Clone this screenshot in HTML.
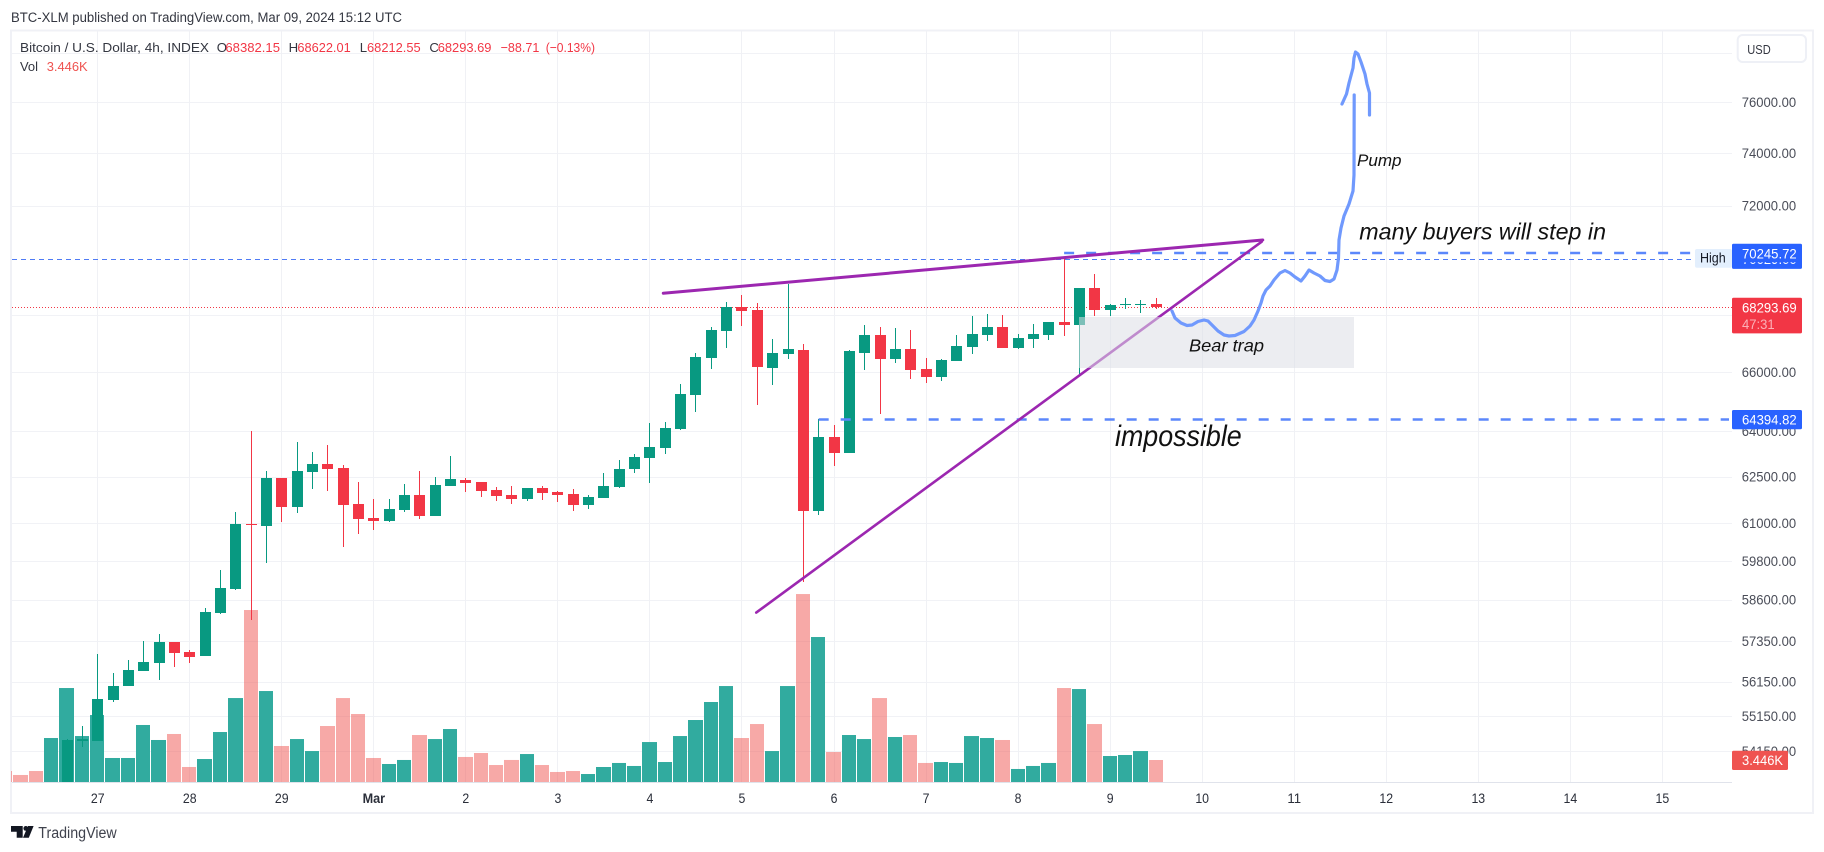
<!DOCTYPE html>
<html lang="en">
<head>
<meta charset="utf-8">
<title>Bitcoin / U.S. Dollar 4h chart</title>
<style>
html,body{margin:0;padding:0;background:#fff;width:1824px;height:852px;overflow:hidden}
svg{display:block;font-family:"Liberation Sans",sans-serif}
</style>
</head>
<body>
<svg id="chart" xmlns="http://www.w3.org/2000/svg" width="1824" height="852" viewBox="0 0 1824 852">
  <defs>
    <clipPath id="pane-clip"><rect x="11" y="31" width="1721" height="751"/></clipPath>
  </defs>
  <rect x="0" y="0" width="1824" height="852" fill="#ffffff"/>
  <text x="11" y="22" font-size="13.5" fill="#333640" textLength="391" lengthAdjust="spacingAndGlyphs">BTC-XLM published on TradingView.com, Mar 09, 2024 15:12 UTC</text>
  <rect x="11" y="30.5" width="1802" height="782.5" fill="none" stroke="#f0f1f6" stroke-width="2"/>

  <g id="grid"></g>
  <g id="volume" clip-path="url(#pane-clip)"></g>
  <line id="high-thin-line" stroke="#4f7bf5" stroke-width="1" stroke-dasharray="5 4"/>
  <line id="last-price-line" stroke="#f23645" stroke-width="1" stroke-dasharray="1 2"/>
  <g id="candles" clip-path="url(#pane-clip)"></g>

  <line id="level-high" stroke="#5b87fb" stroke-width="2.5" stroke-dasharray="10 12"/>
  <line id="level-low" stroke="#5b87fb" stroke-width="2.5" stroke-dasharray="10 12"/>
  <line id="trend-top" stroke="#9c27b0" stroke-width="3" stroke-linecap="round"/>
  <line id="trend-bottom" stroke="#9c27b0" stroke-width="2.6" stroke-linecap="round"/>
  <rect x="1079" y="317" width="275" height="51" fill="rgba(220,222,230,0.55)"/>

  <polyline fill="none" stroke="#7099fd" stroke-width="3.2" stroke-linejoin="round" stroke-linecap="round" points="1172,311 1175,318 1181,323 1187,325.5 1192,325 1198,321.5 1204,320 1208,321 1212,325 1218,331 1224,335 1229,336 1235,335.5 1244,331.5 1250,326 1254,320 1258,311 1261,303 1263,296 1266,290 1270,286 1274,280 1280,273 1285,270.5 1290,273 1295,277 1301,281 1305,276 1309,270 1314,273 1320,276 1325,280.5 1330,281.5 1334,279 1337,270 1338.5,258 1339,240 1341,228 1344,216 1349,204 1353,191 1354,175 1354.2,95"/>
  <polyline fill="none" stroke="#7099fd" stroke-width="3.2" stroke-linejoin="round" stroke-linecap="round" points="1342,104 1346.5,94 1349,83 1353,68 1354,58 1355.5,52 1358,54 1361,62 1365,74 1367,84 1369.5,93 1369.5,115"/>

  <text x="1357" y="166" font-size="17" font-style="italic" fill="#111111" textLength="44.5" lengthAdjust="spacingAndGlyphs">Pump</text>
  <text x="1359.3" y="239.3" font-size="23" font-style="italic" fill="#111111" textLength="246.7" lengthAdjust="spacingAndGlyphs">many buyers will step in</text>
  <text x="1189" y="351.5" font-size="17.5" font-style="italic" fill="#111111" textLength="75" lengthAdjust="spacingAndGlyphs">Bear trap</text>
  <text x="1115" y="446" font-size="29.5" font-style="italic" fill="#111111" textLength="126.7" lengthAdjust="spacingAndGlyphs">impossible</text>

  <line x1="12" y1="782.5" x2="1732" y2="782.5" stroke="#e0e3eb" stroke-width="1"/>
  <g id="time-axis"></g>
  <g id="price-axis"></g>

  <g font-size="13.2">
    <text x="20" y="52" fill="#333640" textLength="189" lengthAdjust="spacingAndGlyphs">Bitcoin / U.S. Dollar, 4h, INDEX</text>
    <text x="216.7" y="52" fill="#333640">O</text>
    <text x="225.4" y="52" fill="#f23645" textLength="54.6" lengthAdjust="spacingAndGlyphs">68382.15</text>
    <text x="288.6" y="52" fill="#333640">H</text>
    <text x="297.4" y="52" fill="#f23645" textLength="53.3" lengthAdjust="spacingAndGlyphs">68622.01</text>
    <text x="359.8" y="52" fill="#333640">L</text>
    <text x="367" y="52" fill="#f23645" textLength="53.7" lengthAdjust="spacingAndGlyphs">68212.55</text>
    <text x="429.4" y="52" fill="#333640">C</text>
    <text x="437.7" y="52" fill="#f23645" textLength="53.8" lengthAdjust="spacingAndGlyphs">68293.69</text>
    <text x="500.6" y="52" fill="#f23645" textLength="38.8" lengthAdjust="spacingAndGlyphs">−88.71</text>
    <text x="545.7" y="52" fill="#f23645" textLength="49.3" lengthAdjust="spacingAndGlyphs">(−0.13%)</text>
    <text x="20" y="71" fill="#333640" textLength="18" lengthAdjust="spacingAndGlyphs">Vol</text>
    <text x="46.7" y="71" fill="#ef5350" textLength="41" lengthAdjust="spacingAndGlyphs">3.446K</text>
  </g>

  <g>
    <rect x="1737.7" y="35" width="68.3" height="27" rx="5" fill="#ffffff" stroke="#eef0f6" stroke-width="2"/>
    <text x="1747.3" y="54" font-size="13" fill="#333640" textLength="23.4" lengthAdjust="spacingAndGlyphs">USD</text>
  </g>

  <g>
    <path d="M11 826h11.7v11.7h-6v-6h-5.7z" fill="#131722"/>
    <circle cx="25.8" cy="828.4" r="2.4" fill="#131722"/>
    <path d="M28 826h5.6l-4.8 11.7h-5.8z" fill="#131722"/>
    <text x="38.3" y="838" font-size="15.5" fill="#3f424d" textLength="78.4" lengthAdjust="spacingAndGlyphs">TradingView</text>
  </g>
</svg>

<script>
// Category labels: one per day, starting at bar 0 and six 4h bars apart
const dayLabels = ['27','28','29','Mar','2','3','4','5','6','7','8','9','10','11','12','13','14','15'];
// Price axis
const gridPrices = [78000,76000,74000,72000,68000,66000,64000,62500,61000,59800,58600,57350,56150,55150,54150];
const tickLabels = ['78000.00','76000.00','74000.00','72000.00','68000.00','66000.00','64000.00','62500.00','61000.00','59800.00','58600.00','57350.00','56150.00','55150.00','54150.00'];
// Series start at bar -2, the first candle on screen
const firstCandleBar = -2;
const opens = [52900,54440,54441,55617,56030,56470,56706,57330,57029,56912,58206,58940,60979,60915,62460,61520,62657,62918,62787,61615,61170,61074,61424,61906,61233,62199,62395,62330,62068,61906,61775,62133,62003,61938,61583,61807,62166,62755,63114,63443,64082,65225,66499,67445,68294,68188,66155,66636,66774,61392,63812,63278,66671,67305,66465,66808,66120,65844,66396,66877,67305,67586,66843,67160,67305,67763,67657,68978,68188,68385,68370,68382.15];
const highs = [54489,54871,56970,56412,56794,57360,57571,57330,57088,58357,59530,61360,64015,62689,62460,63646,63311,63546,62886,62330,61775,61775,62265,62689,62493,63180,62460,62330,62166,62199,62133,62199,62036,62101,61906,62624,63049,63245,64282,64316,65603,66671,67586,68471,68724,68436,67160,69123,66980,64417,64215,66774,67657,67586,67551,67480,66499,66465,67305,67975,68046,68010,67340,67692,67763,70029,68978,69486,68400,68615,68542,68622.01];
const lows = [52500,54278,54441,55560,56030,56470,56206,56588,56706,56912,58176,58909,57995,59747,61042,61329,62100,62036,60245,60661,60788,61042,61360,61138,61233,62199,62003,61840,61710,61615,61710,61742,61678,61392,61456,61807,62133,62624,62297,63245,64048,64651,66120,66843,67621,64886,65569,66465,59158,61265,62853,63278,66086,64584,66327,65775,65637,65706,66396,66636,67090,66843,66808,66843,67125,67270,65948,67975,67975,68223,68082,68212.55];
const closes = [54469,54480,55646,56030,56500,56735,57330,57000,56882,58236,58971,60979,60947,62460,61520,62689,62918,62755,61583,61138,61074,61456,61906,61233,62232,62428,62297,62036,61873,61775,62133,61971,61906,61583,61840,62199,62755,63147,63476,64115,65259,66533,67480,68294,68153,66189,66671,66808,61392,63812,63278,66740,67305,66465,66808,66086,65844,66430,66912,67340,67586,66843,67195,67340,67763,67657,68978,68188,68365,68415,68400,68293.69];
// Volume in thousands, starting at bar -6; u = up bar, d = down bar
const firstVolumeBar = -6;
const volumes = [1.72,1.10,1.72,6.89,14.72,7.20,10.49,3.76,3.76,8.93,6.58,7.52,2.35,3.60,7.83,13.15,26.94,14.25,5.64,6.73,4.85,8.77,13.15,10.65,3.76,2.82,3.45,7.36,6.73,8.30,3.92,4.54,2.66,3.45,4.38,2.66,1.57,1.72,1.25,2.35,2.98,2.51,6.26,3.13,7.20,9.71,12.53,15.03,6.89,9.08,4.85,15.03,29.44,22.71,4.70,7.36,6.73,13.15,7.05,7.36,2.98,3.13,2.98,7.20,6.89,6.58,2.04,2.51,2.98,14.72,14.56,9.08,4.07,4.23,4.85,3.446];
const volumeDirections = ['d','d','d','u','u','u','u','u','u','u','u','d','d','u','u','u','d','u','d','u','u','d','d','d','d','u','u','d','u','u','d','d','d','d','u','d','d','d','u','u','u','u','u','u','u','u','u','u','d','d','u','u','d','u','d','u','u','d','u','d','d','u','u','u','u','d','u','u','u','d','u','d','u','u','u','d'];
// Key price levels
const lastPrice = 68293.69;
const highLevel = 70245.72;
const lowLevel = 64394.82;
const previousHigh = 70029;
const volumeLast = 3.446;
// Trend-line anchors as [bar, price]
const upperTrend = [[36.87,68785],[75.95,70726]];
const lowerTrend = [[42.93,58215],[75.88,70663]];

const NS = 'http://www.w3.org/2000/svg';
const PANE_LEFT = 12, PANE_RIGHT = 1732, BASELINE = 782, VOL_PX_PER_K = 66 / 3 / 3.446;

function xBar(k) { return 97.7 + 15.34 * k; }
function yPrice(p) { return 102.3 + 1914 * Math.log(76000 / p); }
function yVolume(v) { return BASELINE - v * VOL_PX_PER_K; }
function barLeft(k) { return Math.round(xBar(k) - 7.6); }
function mk(tag, attrs, parent) {
  const el = document.createElementNS(NS, tag);
  for (const key in attrs) el.setAttribute(key, attrs[key]);
  parent.appendChild(el);
  return el;
}
function setLine(id, x1, y1, x2, y2) {
  const el = document.getElementById(id);
  el.setAttribute('x1', x1); el.setAttribute('y1', y1);
  el.setAttribute('x2', x2); el.setAttribute('y2', y2);
}

// Grid
const gridGroup = document.getElementById('grid');
gridPrices.forEach(function (p) {
  const yy = Math.round(yPrice(p)) + 0.5;
  const ln = mk('line', {x1: PANE_LEFT, x2: PANE_RIGHT, y1: yy, y2: yy, stroke: '#f1f2f6', 'stroke-width': 1}, gridGroup);
  
  
});
dayLabels.forEach(function (d, i) {
  const xx = Math.round(xBar(i * 6) - 5.5) + 5.5;
  const ln = mk('line', {x1: xx, x2: xx, y1: 31, y2: BASELINE, stroke: '#f0f1f5', 'stroke-width': 1}, gridGroup);
  
  
});

// Volume bars
const volGroup = document.getElementById('volume');
volumes.forEach(function (v, i) {
  const k = firstVolumeBar + i;
  const left = barLeft(k);
  const top = yVolume(v);
  const r = mk('rect', {x: left, y: top, width: barLeft(k + 1) - left - 1, height: BASELINE - top,
    fill: volumeDirections[i] === 'u' ? 'rgba(38,166,154,0.95)' : 'rgba(239,83,80,0.5)'}, volGroup);
  
  
});

// Candles
const candleGroup = document.getElementById('candles');
closes.forEach(function (c, i) {
  const k = firstCandleBar + i;
  const o = opens[i], h = highs[i], l = lows[i];
  const color = c >= o ? '#089981' : '#f23645';
  const left = Math.round(xBar(k) - 5.5);
  const g = mk('g', {}, candleGroup);
  
  
  const yh = Math.round(yPrice(h)), yl = Math.round(yPrice(l));
  const wick = mk('rect', {x: left + 5, y: yh, width: 1, height: Math.max(1, yl - yh), fill: color}, g);
  
  
  const yt = Math.round(yPrice(Math.max(o, c))), yb = Math.round(yPrice(Math.min(o, c)));
  const body = mk('rect', {x: left, y: yt, width: 11, height: Math.max(1, yb - yt), fill: color}, g);
  
  
});

// Level and trend lines
const yLast = Math.round(yPrice(lastPrice)) + 0.5;
const yPrev = Math.round(yPrice(previousHigh)) + 0.5;
setLine('last-price-line', PANE_LEFT, yLast, PANE_RIGHT, yLast);
setLine('high-thin-line', PANE_LEFT, yPrev, 1695, yPrev);
setLine('level-high', xBar(63), yPrice(highLevel), 1695, yPrice(highLevel));
setLine('level-low', xBar(47), yPrice(lowLevel), 1729, yPrice(lowLevel));
setLine('trend-top', xBar(upperTrend[0][0]), yPrice(upperTrend[0][1]), xBar(upperTrend[1][0]), yPrice(upperTrend[1][1]));
setLine('trend-bottom', xBar(lowerTrend[0][0]), yPrice(lowerTrend[0][1]), xBar(lowerTrend[1][0]), yPrice(lowerTrend[1][1]));

// Time axis
const timeGroup = document.getElementById('time-axis');
dayLabels.forEach(function (d, i) {
  const t = mk('text', {x: xBar(i * 6), y: 803, 'text-anchor': 'middle', 'font-size': 14,
    fill: '#2a2e39', 'font-weight': d === 'Mar' ? 'bold' : 'normal',
    textLength: d === 'Mar' ? 22.5 : d.length * 6.85, lengthAdjust: 'spacingAndGlyphs'}, timeGroup);
  
  
  t.textContent = d;
});

// Price axis
const priceGroup = document.getElementById('price-axis');
tickLabels.forEach(function (label, i) {
  const t = mk('text', {x: 1741.7, y: yPrice(gridPrices[i]) + 4.7, 'font-size': 13.5, fill: '#4a4d58',
    textLength: 54.4, lengthAdjust: 'spacingAndGlyphs'}, priceGroup);
  
  
  t.textContent = label;
});
function priceTag(name, text, yTop, height, width, bg, textY, fg) {
  const r = mk('rect', {x: 1732, y: yTop, width: width, height: height, rx: 1.5, fill: bg}, priceGroup);
  
  
  const t = mk('text', {x: 1742, y: textY, 'font-size': 13.5, fill: fg || '#ffffff'}, priceGroup);
  
  
  t.textContent = text;
  t.setAttribute('textLength', text.length * 6.84);
  t.setAttribute('lengthAdjust', 'spacingAndGlyphs');
  return t;
}
priceTag('previous-high-tag', previousHigh.toFixed(2), yPrice(previousHigh) - 9, 19, 70, '#2962ff', yPrice(previousHigh) + 5);
priceTag('high-tag', highLevel.toFixed(2), yPrice(highLevel) - 9.3, 18.6, 70, '#2962ff', yPrice(highLevel) + 5.7);
priceTag('last-price-tag', lastPrice.toFixed(2), yPrice(lastPrice) - 9.2, 35.6, 70, '#f23645', yPrice(lastPrice) + 5.6);
const countdown = mk('text', {x: 1742, y: 329, 'font-size': 13.5, fill: '#fbb0b8', textLength: 32.7, lengthAdjust: 'spacingAndGlyphs'}, priceGroup);


countdown.textContent = '47:31';
priceTag('low-tag', lowLevel.toFixed(2), yPrice(lowLevel) - 9.5, 19.3, 70, '#2962ff', yPrice(lowLevel) + 5);
priceTag('volume-tag', volumeLast.toFixed(3) + 'K', yVolume(volumeLast) - 9.3, 19.3, 56, '#ef5350', yVolume(volumeLast) + 4.8);
const highBox = mk('rect', {x: 1695, y: 249, width: 37, height: 18.7, rx: 2, fill: '#e3effd'}, priceGroup);


const highText = mk('text', {x: 1700, y: 262.7, 'font-size': 14, fill: '#131722', textLength: 25.7, lengthAdjust: 'spacingAndGlyphs'}, priceGroup);


highText.textContent = 'High';
</script>
</body>
</html>
